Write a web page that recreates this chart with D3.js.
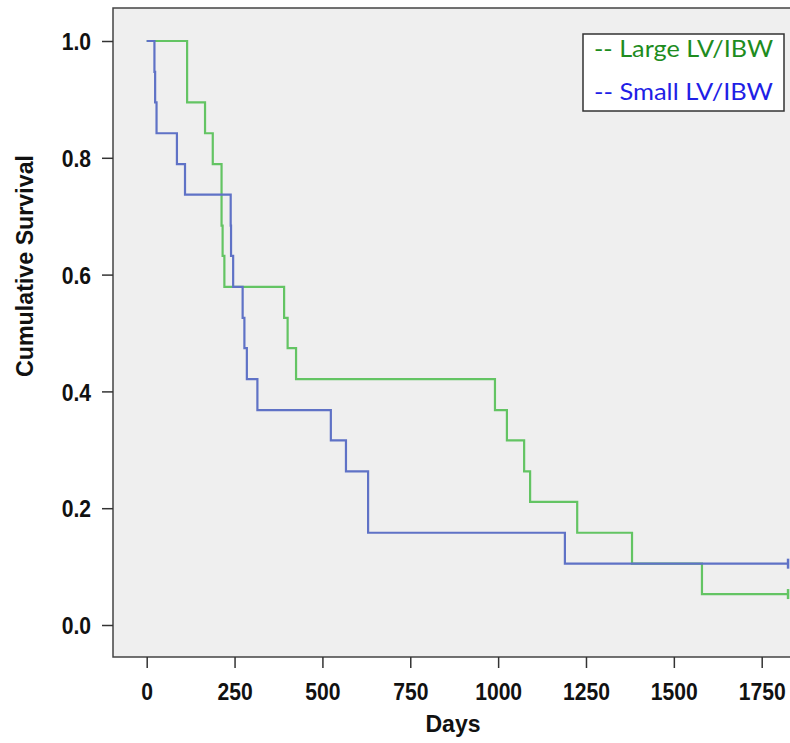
<!DOCTYPE html>
<html>
<head>
<meta charset="utf-8">
<script src="https://cdn.jsdelivr.net/npm/d3@7"></script>
<style>
  body { margin: 0; background: #fff; }
  svg { display: block; }
</style>
</head>
<body>
<svg id="canvas" width="790" height="743"></svg>
<script>
// Kaplan-Meier steps (days, cumulative survival)
const largeDays = [0, 115, 166, 188, 213, 216, 221, 391, 401, 425, 991, 1025, 1074, 1091, 1225, 1381, 1580];
const largeSurv = [1.0, 0.895, 0.842, 0.789, 0.684, 0.632, 0.579, 0.526, 0.474, 0.421, 0.368, 0.316, 0.263, 0.211, 0.158, 0.105, 0.053];
const largeCensor = 1825;

const smallDays = [0, 22, 24, 28, 86, 109, 239, 240, 246, 273, 278, 285, 315, 524, 567, 630, 1190];
const smallSurv = [1.0, 0.947, 0.895, 0.842, 0.789, 0.737, 0.684, 0.632, 0.579, 0.526, 0.474, 0.421, 0.368, 0.316, 0.263, 0.158, 0.105];
const smallCensor = 1825;

const xTicks = [0, 250, 500, 750, 1000, 1250, 1500, 1750];
const yTicks = [0, 0.2, 0.4, 0.6, 0.8, 1.0];
const legendLabels = ['-- Large LV/IBW', '-- Small LV/IBW'];

const green = '#63c463';
const blue = '#5f72c6';

const svg = d3.select('#canvas');

// plot box
const plotLeft = 113, plotTop = 8, plotBottom = 657, plotRight = 800;

const x = d3.scaleLinear().domain([0, 1750]).range([146.7, 761.7]);
const y = d3.scaleLinear().domain([0, 1]).range([625, 41]);

svg.append('rect')
    .attr('x', plotLeft).attr('y', plotTop)
    .attr('width', plotRight - plotLeft).attr('height', plotBottom - plotTop)
    .attr('fill', '#efefef');

// frame lines (left, top, bottom)
svg.append('path')
    .attr('d', `M${plotRight},${plotTop}H${plotLeft}V${plotBottom}H${plotRight}`)
    .attr('fill', 'none')
    .attr('stroke', '#444')
    .attr('stroke-width', 1.5);

const squeeze = 0.88; // the source font looks horizontally compressed

// x axis
const xAxis = svg.append('g')
    .attr('transform', `translate(0,${plotBottom})`)
    .call(d3.axisBottom(x).tickValues(xTicks).tickSize(11).tickPadding(0).tickFormat(d3.format('d')));
xAxis.select('.domain').remove();
xAxis.selectAll('.tick line').attr('stroke', '#333').attr('stroke-width', 1.5);
xAxis.selectAll('.tick text')
    .attr('y', 0).attr('dy', 0)
    .attr('transform', `translate(0,43) scale(${squeeze},1)`)
    .attr('font-family', '"Liberation Sans", Arial, sans-serif')
    .attr('font-weight', 'bold')
    .attr('font-size', 24)
    .attr('fill', '#111');

// y axis
const yAxis = svg.append('g')
    .attr('transform', `translate(${plotLeft},0)`)
    .call(d3.axisLeft(y).tickValues(yTicks).tickSize(11).tickFormat(d3.format('.1f')));
yAxis.select('.domain').remove();
yAxis.selectAll('.tick line').attr('stroke', '#333').attr('stroke-width', 1.5);
yAxis.selectAll('.tick text')
    .attr('x', 0).attr('dy', '0.36em')
    .attr('transform', `translate(-22,0) scale(${squeeze},1)`)
    .attr('font-family', '"Liberation Sans", Arial, sans-serif')
    .attr('font-weight', 'bold')
    .attr('font-size', 24)
    .attr('fill', '#111');

// axis titles
svg.append('text')
    .attr('x', 453).attr('y', 732)
    .attr('text-anchor', 'middle')
    .attr('font-family', '"Liberation Sans", Arial, sans-serif')
    .attr('font-weight', 'bold')
    .attr('font-size', 24)
    .attr('textLength', 55)
    .attr('lengthAdjust', 'spacingAndGlyphs')
    .attr('fill', '#111')
    .text('Days');

svg.append('text')
    .attr('transform', 'translate(33,266) rotate(-90)')
    .attr('text-anchor', 'middle')
    .attr('font-family', '"Liberation Sans", Arial, sans-serif')
    .attr('font-weight', 'bold')
    .attr('font-size', 24)
    .attr('textLength', 222)
    .attr('lengthAdjust', 'spacingAndGlyphs')
    .attr('fill', '#111')
    .text('Cumulative Survival');

// survival curves
const line = d3.line()
    .x(d => x(d[0]))
    .y(d => y(d[1]))
    .curve(d3.curveStepAfter);

function curvePoints(days, surv, censor) {
    const pts = days.map((d, i) => [d, surv[i]]);
    pts.push([censor, surv[surv.length - 1]]);
    return pts;
}

const series = [
    { pts: curvePoints(largeDays, largeSurv, largeCensor), color: green },
    { pts: curvePoints(smallDays, smallSurv, smallCensor), color: blue }
];

series.forEach(s => {
    svg.append('path')
        .attr('d', line(s.pts))
        .attr('fill', 'none')
        .attr('stroke', s.color)
        .attr('stroke-width', 2.2);

    // censor mark at the end
    const last = s.pts[s.pts.length - 1];
    svg.append('line')
        .attr('x1', x(last[0])).attr('x2', x(last[0]))
        .attr('y1', y(last[1]) - 5).attr('y2', y(last[1]) + 5)
        .attr('stroke', s.color)
        .attr('stroke-width', 2.5);
});

// legend
const legend = svg.append('g').attr('transform', 'translate(583,34)');
legend.append('rect')
    .attr('width', 201).attr('height', 77)
    .attr('fill', '#fff')
    .attr('stroke', '#333')
    .attr('stroke-width', 1.5);
legend.selectAll('text')
    .data(legendLabels)
    .join('text')
    .attr('x', 11)
    .attr('y', (d, i) => 23 + i * 43)
    .attr('font-family', 'Lato, "Open Sans", sans-serif')
    .attr('font-size', 23)
    .attr('textLength', 179)
    .attr('lengthAdjust', 'spacingAndGlyphs')
    .attr('fill', (d, i) => i === 0 ? '#1e8c1e' : '#1f1fe6')
    .text(d => d);
</script>
</body>
</html>
